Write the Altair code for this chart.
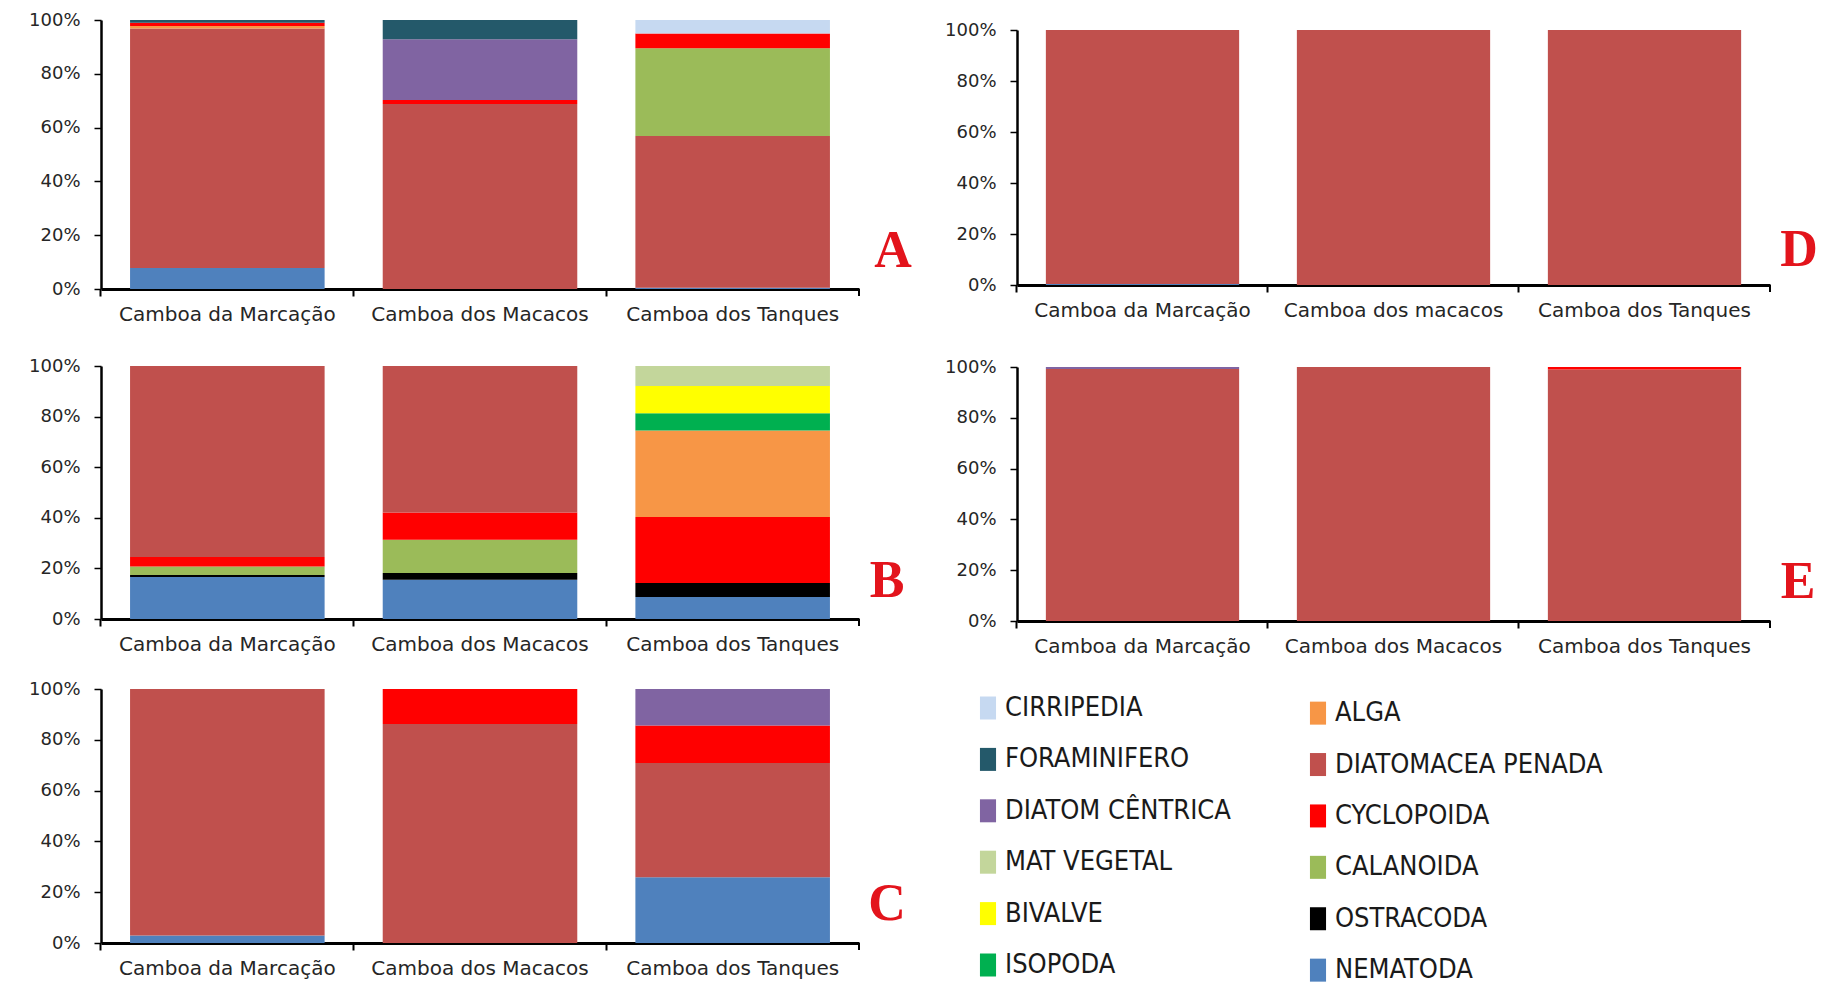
import altair as alt
import pandas as pd

# ---------------- data ----------------
SITES = ["Camboa da Marcação", "Camboa dos Macacos", "Camboa dos Tanques"]
SITES_D = ["Camboa da Marcação", "Camboa dos macacos", "Camboa dos Tanques"]

SPECIES = ["CIRRIPEDIA", "FORAMINIFERO", "DIATOM CÊNTRICA", "MAT VEGETAL", "BIVALVE", "ISOPODA",
           "ALGA", "DIATOMACEA PENADA", "CYCLOPOIDA", "CALANOIDA", "OSTRACODA", "NEMATODA"]
COLORS = ["#C6D9F1", "#24596A", "#8064A2", "#C3D69B", "#FFFF00", "#00B050",
          "#F79646", "#C0504D", "#FF0000", "#9BBB59", "#000000", "#4F81BD"]

# stacking order bottom -> top; values (%) per site
A_SPECIES = ["NEMATODA", "DIATOMACEA PENADA", "CALANOIDA", "ALGA", "CYCLOPOIDA",
             "DIATOM CÊNTRICA", "FORAMINIFERO", "CIRRIPEDIA"]
A_VALUES = [[7.8, 0.0, 0.5], [89.0, 68.8, 56.4], [0.0, 0.0, 32.6], [1.0, 0.0, 0.0],
            [1.2, 1.5, 5.5], [0.0, 22.5, 0.0], [1.0, 7.2, 0.0], [0.0, 0.0, 5.0]]

B_SPECIES = ["NEMATODA", "OSTRACODA", "CALANOIDA", "CYCLOPOIDA", "DIATOMACEA PENADA",
             "ALGA", "ISOPODA", "BIVALVE", "MAT VEGETAL"]
B_VALUES = [[16.6, 15.5, 8.7], [0.8, 2.7, 5.5], [3.4, 13.1, 0.0], [3.7, 10.8, 26.1],
            [75.5, 57.9, 0.0], [0.0, 0.0, 34.2], [0.0, 0.0, 6.8], [0.0, 0.0, 10.8],
            [0.0, 0.0, 7.9]]

C_SPECIES = ["NEMATODA", "DIATOMACEA PENADA", "CYCLOPOIDA", "DIATOM CÊNTRICA"]
C_VALUES = [[3.0, 0.0, 25.9], [97.0, 86.2, 45.0], [0.0, 13.8, 14.7], [0.0, 0.0, 14.4]]

D_SPECIES = ["NEMATODA", "DIATOMACEA PENADA"]
D_VALUES = [[0.4, 0.0, 0.0], [99.6, 100.0, 100.0]]

E_SPECIES = ["DIATOMACEA PENADA", "CYCLOPOIDA", "DIATOM CÊNTRICA"]
E_VALUES = [[99.2, 100.0, 99.0], [0.0, 0.0, 1.0], [0.8, 0.0, 0.0]]

LETTER_RED = "#E3141C"
AXIS_FONT = "DejaVu Sans"
LEGEND_FONT = "Liberation Sans Narrow, DejaVu Sans Condensed, sans-serif"

color_scale = alt.Scale(domain=SPECIES, range=COLORS)


def panel(sites, species, values, letter, width, height, letter_x, letter_y):
    rows = []
    for k, (sp, vals) in enumerate(zip(species, values)):
        for site, v in zip(sites, vals):
            if v > 0:
                rows.append({"site": site, "species": sp, "value": v, "ord": k})
    df = pd.DataFrame(rows)
    bars = alt.Chart(df).mark_bar().encode(
        x=alt.X("site:N", sort=sites,
                scale=alt.Scale(paddingInner=0.23, paddingOuter=0.115),
                axis=alt.Axis(title=None, labelAngle=0, labelFont=AXIS_FONT, labelFontSize=20,
                              labelColor="#262626", labelPadding=8, labelLimit=0,
                              tickSize=7, tickWidth=2, tickColor="black",
                              domainColor="black", domainWidth=3, bandPosition=-0.1494)),
        y=alt.Y("value:Q", stack="normalize", scale=alt.Scale(domain=[0, 1]),
                axis=alt.Axis(title=None, values=[0, 0.2, 0.4, 0.6, 0.8, 1.0], format=".0%",
                              grid=False, labelFont=AXIS_FONT, labelFontSize=18,
                              labelColor="#262626", labelPadding=14, tickSize=7, tickWidth=1.5,
                              tickColor="black", domainColor="black", domainWidth=2.5)),
        color=alt.Color("species:N", scale=color_scale, legend=None),
        order=alt.Order("ord:Q", sort="ascending"),
    )
    end_tick = alt.Chart(pd.DataFrame({"k": [0]})).mark_rule(color="black", strokeWidth=2).encode(
        x=alt.value(width), y=alt.value(height), y2=alt.value(height + 7))
    lab = alt.Chart(pd.DataFrame({"t": [letter]})).mark_text(
        font="Liberation Serif", fontWeight="bold", fontSize=52, color=LETTER_RED,
        align="center", baseline="alphabetic").encode(
        x=alt.value(letter_x), y=alt.value(letter_y), text="t:N")
    return alt.layer(bars, end_tick, lab).properties(width=width, height=height)


pA = panel(SITES, A_SPECIES, A_VALUES, "A", 758, 269, 792, 247)
pB = panel(SITES, B_SPECIES, B_VALUES, "B", 758, 253, 786, 231)
pC = panel(SITES, C_SPECIES, C_VALUES, "C", 758, 254, 786, 231)
pD = panel(SITES_D, D_SPECIES, D_VALUES, "D", 753, 255, 782, 236)
pE = panel(SITES, E_SPECIES, E_VALUES, "E", 753, 254, 781, 231)

# small spacer to push panel D down a little
spacer = alt.Chart(pd.DataFrame({"k": [0]})).mark_rule(strokeOpacity=0, strokeWidth=0).encode(
    x=alt.value(0), y=alt.value(0), y2=alt.value(1)).properties(width=1, height=1)

# legend built from the species list
leg_df = pd.DataFrame({"species": SPECIES, "idx": list(range(len(SPECIES)))})
leg_base = alt.Chart(leg_df).transform_calculate(
    col="floor(datum.idx / 6)", row="datum.idx % 6"
).transform_calculate(yy="datum.row + 0.1 * datum.col")
lx = alt.X("col:Q", scale=alt.Scale(domain=[0, 1], range=[-29, 301]), axis=None)
ly = alt.Y("yy:Q", scale=alt.Scale(domain=[0, 5], range=[0, 257]), axis=None)
leg_sym = leg_base.mark_point(shape="M-0.7,-1L0.7,-1L0.7,1L-0.7,1Z",
                              filled=True, size=529, opacity=1).encode(
    x=lx, y=ly, color=alt.Color("species:N", scale=color_scale, legend=None))
leg_txt = leg_base.mark_text(align="left", baseline="middle", dx=17, font=LEGEND_FONT,
                             fontSize=27, color="#1a1a1a").encode(x=lx, y=ly, text="species:N")
legend = alt.layer(leg_sym, leg_txt).properties(width=300, height=257)

left = alt.vconcat(pA, alt.vconcat(pB, pC, spacing=26), spacing=33)
right = alt.vconcat(alt.vconcat(spacer, pD, spacing=0),
                    alt.vconcat(pE, legend, spacing=38), spacing=38)

chart = alt.hconcat(left, right, spacing=32).properties(
    padding={"left": 20, "top": 3, "right": 0, "bottom": 0},
    background="white",
).configure_view(stroke=None)

chart.save("out.html", embed_options={"renderer": "svg", "actions": False})
